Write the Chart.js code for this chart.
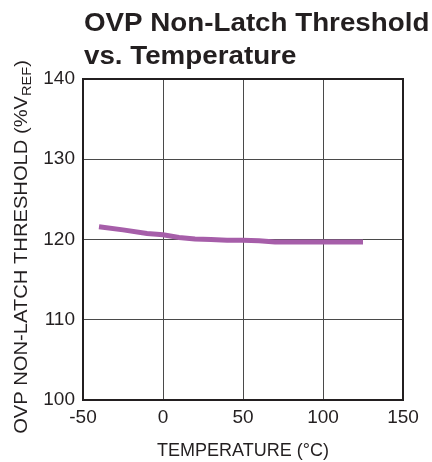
<!DOCTYPE html>
<html>
<head>
<meta charset="utf-8">
<script src="https://cdn.jsdelivr.net/npm/chart.js@4/dist/chart.umd.min.js"></script>
<style>
  html, body { margin: 0; padding: 0; background: #fff; }
  #wrap { width: 432px; height: 462px; }
</style>
</head>
<body>
<div id="wrap"><canvas id="ovpChart" width="432" height="462"></canvas></div>
<script>
var temps = [-40, -25, -10, 0, 10, 20, 30, 40, 50, 60, 70, 85, 100, 125];
var threshold = [121.6, 121.2, 120.75, 120.6, 120.25, 120.05, 120.0, 119.9, 119.9, 119.85, 119.7, 119.7, 119.7, 119.7];
var xTicks = [-50, 0, 50, 100, 150];
var yTicks = [100, 110, 120, 130, 140];

var FONT = "'Liberation Sans', Arial, sans-serif";
var INK = "#231f20";

// title + y axis title (with subscript) + frame
var extras = {
    id: 'extras',
    afterDraw: function (chart) {
        var c = chart.ctx, a = chart.chartArea;
        c.save();
        c.strokeStyle = INK;
        c.lineWidth = 2;
        c.strokeRect(a.left, a.top, a.right - a.left, a.bottom - a.top);

        c.fillStyle = INK;
        c.textBaseline = 'alphabetic';
        c.textAlign = 'left';

        // the original type is a little wider than Arial
        c.save();
        c.font = "bold 25px " + FONT;
        c.translate(84, 0);
        c.scale(1.11, 1);
        c.fillText("OVP Non-Latch Threshold", 0, 31);
        c.fillText("vs. Temperature", 0, 64);
        c.restore();

        // rotated y title
        var main = "OVP NON-LATCH THRESHOLD (%V", sub = "REF", close = ")";
        c.font = "18px " + FONT;
        var w1 = c.measureText(main).width, w3 = c.measureText(close).width;
        c.font = "13px " + FONT;
        var w2 = c.measureText(sub).width;
        var total = w1 + w2 + w3;
        c.translate(27, 247);
        c.rotate(-Math.PI / 2);
        c.scale(1.12, 1);
        var x = -total / 2;
        c.font = "18px " + FONT;
        c.fillText(main, x, 0);
        c.font = "13px " + FONT;
        c.fillText(sub, x + w1, 4);
        c.font = "18px " + FONT;
        c.fillText(close, x + w1 + w2, 0);
        c.restore();
    }
};

new Chart(document.getElementById("ovpChart"), {
    type: 'line',
    data: {
        datasets: [{
            data: temps.map(function (t, i) { return { x: t, y: threshold[i] }; }),
            borderColor: "#a65ea9",
            borderWidth: 5,
            pointRadius: 0,
            tension: 0,
            fill: false
        }]
    },
    options: {
        responsive: false,
        animation: false,
        layout: { padding: { top: 79, right: 29, left: 0, bottom: 0 } },
        plugins: { legend: { display: false }, tooltip: { enabled: false } },
        scales: {
            x: {
                type: 'linear',
                min: -50, max: 150,
                afterBuildTicks: function (s) { s.ticks = xTicks.map(function (v) { return { value: v }; }); },
                afterFit: function (s) { s.height = 62; s.paddingLeft = 0; s.paddingRight = 0; },
                grid: { color: "#4a4a4a", lineWidth: 1, drawTicks: false },
                border: { display: false },
                ticks: { color: INK, font: { family: FONT, size: 19 }, padding: 6, maxRotation: 0 },
                title: { display: true, text: "TEMPERATURE (°C)", color: INK, font: { family: FONT, size: 18 }, padding: { top: 9, bottom: 0 } }
            },
            y: {
                min: 100, max: 140,
                afterBuildTicks: function (s) { s.ticks = yTicks.map(function (v) { return { value: v }; }); },
                afterFit: function (s) { s.width = 83; s.paddingTop = 0; s.paddingBottom = 0; },
                grid: { color: "#4a4a4a", lineWidth: 1, drawTicks: false },
                border: { display: false },
                ticks: { color: INK, font: { family: FONT, size: 19 }, padding: 8 }
            }
        }
    },
    plugins: [extras]
});
</script>
</body>
</html>
